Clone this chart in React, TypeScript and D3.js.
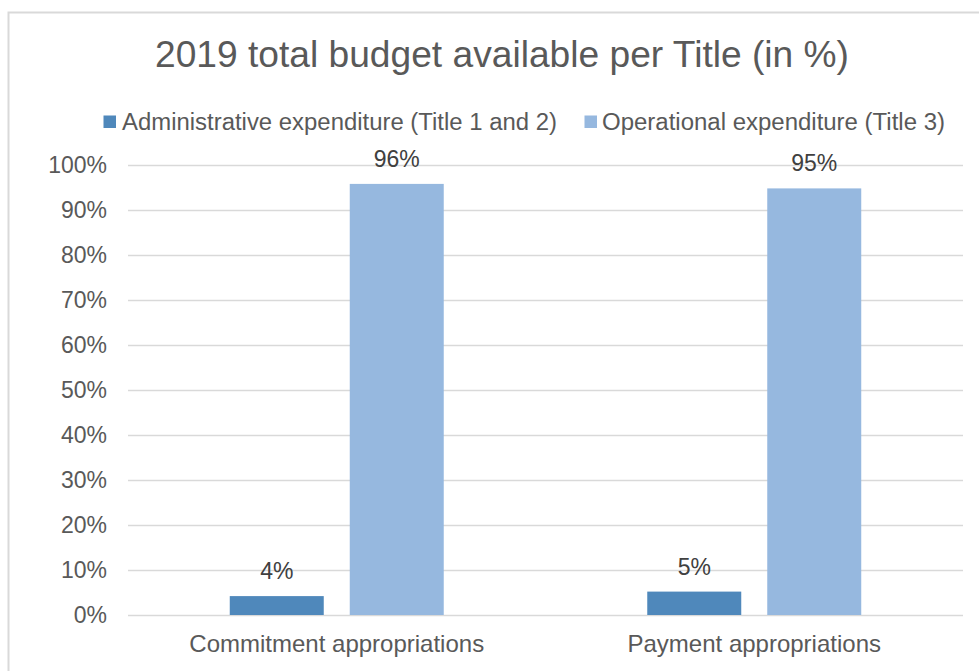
import React from "react";
import * as d3 from "d3";

const categories = ["Commitment appropriations", "Payment appropriations"];
const seriesNames = ["Administrative expenditure (Title 1 and 2)", "Operational expenditure (Title 3)"];
const adminValues = [4.2, 5.2];
const operationalValues = [95.8, 94.8];
const adminLabels = ["4%", "5%"];
const operationalLabels = ["96%", "95%"];
const yTicks = [0, 10, 20, 30, 40, 50, 60, 70, 80, 90, 100];
const colors = ["#4F88BB", "#96B8DF"];
const titleText = "2019 total budget available per Title (in %)";

const FONT = "'Liberation Sans', Arial, sans-serif";
const TEXT = "#595959";

export default function App() {
  const W = 979;
  const H = 671;
  const plotLeft = 128;
  const plotRight = 963;
  const plotTop = 165;
  const plotBottom = 615;

  const y = d3.scaleLinear().domain([0, 100]).range([plotBottom, plotTop]);
  const x0 = d3.scaleBand<string>().domain(categories).range([plotLeft, plotRight]).padding(0);
  const x1 = d3
    .scaleBand<string>()
    .domain(seriesNames)
    .range([0, x0.bandwidth()])
    .paddingInner(0.2167)
    .paddingOuter(0.848);

  const series = [
    { name: seriesNames[0], values: adminValues, labels: adminLabels, color: colors[0] },
    { name: seriesNames[1], values: operationalValues, labels: operationalLabels, color: colors[1] },
  ];

  return (
    <svg
      width={W}
      height={H}
      style={{ position: "absolute", left: 0, top: 0, background: "#fff" }}
      fontFamily={FONT}
    >
      <rect x={0} y={0} width={W} height={H} fill="#fff" />
      <rect x={8.5} y={12.5} width={1000} height={700} fill="none" stroke="#D9D9D9" strokeWidth={2} />

      <text x={502} y={67} textAnchor="middle" fontSize={37} fill={TEXT} textLength={694} lengthAdjust="spacingAndGlyphs">
        {titleText}
      </text>

      {/* legend */}
      <g>
        <rect x={103.5} y={115.5} width={12.5} height={12.5} fill={colors[0]} />
        <text x={122} y={130} fontSize={23} fill={TEXT} textLength={435} lengthAdjust="spacingAndGlyphs">
          {seriesNames[0]}
        </text>
        <rect x={584.5} y={115.5} width={12.5} height={12.5} fill={colors[1]} />
        <text x={602} y={130} fontSize={23} fill={TEXT} textLength={343} lengthAdjust="spacingAndGlyphs">
          {seriesNames[1]}
        </text>
      </g>

      {/* gridlines */}
      {yTicks.map((t) => (
        <line
          key={t}
          x1={plotLeft}
          x2={plotRight}
          y1={Math.round(y(t)) + 0.5}
          y2={Math.round(y(t)) + 0.5}
          stroke="#D9D9D9"
          strokeWidth={1.5}
        />
      ))}
      {yTicks.map((t) => (
        <text key={"l" + t} x={107} y={y(t) + 8} textAnchor="end" fontSize={23} fill={TEXT}>
          {t + "%"}
        </text>
      ))}

      {/* bars */}
      {categories.map((c, ci) => (
        <g key={c} transform={`translate(${x0(c)},0)`}>
          {series.map((s) => (
            <g key={s.name}>
              <rect
                x={x1(s.name)}
                y={y(s.values[ci])}
                width={x1.bandwidth()}
                height={plotBottom - y(s.values[ci])}
                fill={s.color}
              />
              <text
                x={(x1(s.name) as number) + x1.bandwidth() / 2}
                y={y(s.values[ci]) - 17}
                textAnchor="middle"
                fontSize={23}
                fill="#404040"
              >
                {s.labels[ci]}
              </text>
            </g>
          ))}
          <text x={x0.bandwidth() / 2} y={652} textAnchor="middle" fontSize={24} fill={TEXT}>
            {c}
          </text>
        </g>
      ))}
    </svg>
  );
}
